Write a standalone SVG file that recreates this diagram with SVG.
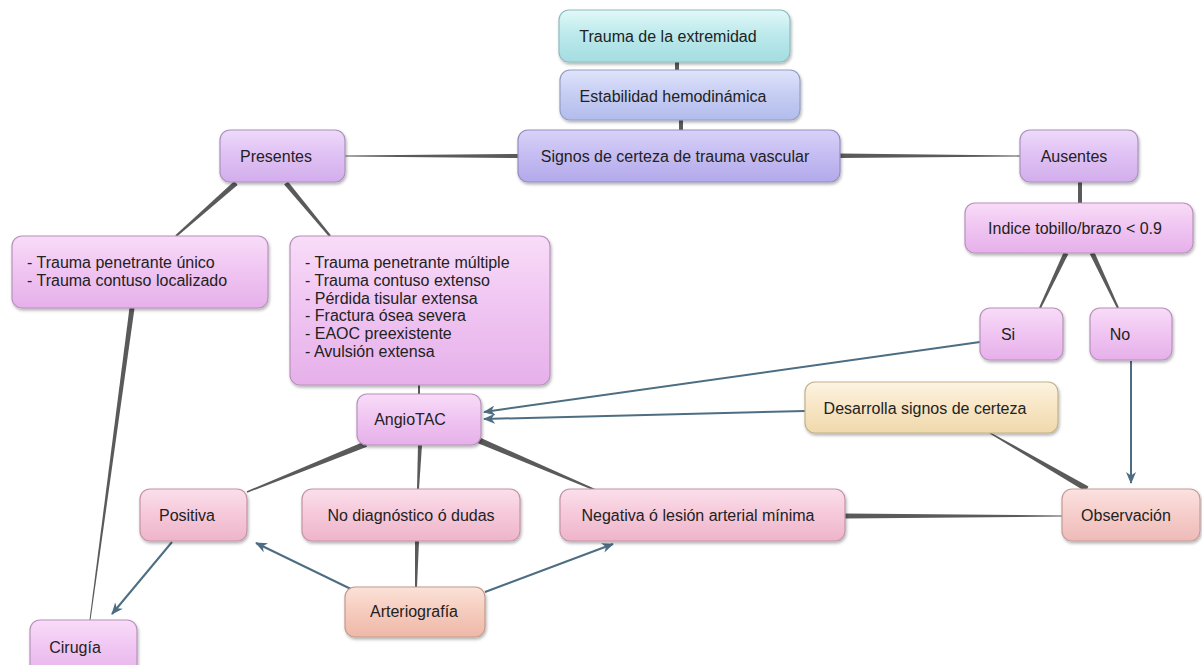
<svg xmlns="http://www.w3.org/2000/svg" width="1202" height="665" viewBox="0 0 1202 665">
<defs>
<linearGradient id="gCyan" x1="0" y1="0" x2="0" y2="1"><stop offset="0" stop-color="#e2f8f8"/><stop offset="0.45" stop-color="#bdeaec"/><stop offset="1" stop-color="#a4dde0"/></linearGradient>
<linearGradient id="gBlue" x1="0" y1="0" x2="0" y2="1"><stop offset="0" stop-color="#dfe4fa"/><stop offset="0.45" stop-color="#c8cff4"/><stop offset="1" stop-color="#b2bcec"/></linearGradient>
<linearGradient id="gLav" x1="0" y1="0" x2="0" y2="1"><stop offset="0" stop-color="#d8d2f8"/><stop offset="0.45" stop-color="#c6bef2"/><stop offset="1" stop-color="#b2a9ea"/></linearGradient>
<linearGradient id="gPurple" x1="0" y1="0" x2="0" y2="1"><stop offset="0" stop-color="#eedafa"/><stop offset="0.45" stop-color="#e0c2f4"/><stop offset="1" stop-color="#d2aeec"/></linearGradient>
<linearGradient id="gMag" x1="0" y1="0" x2="0" y2="1"><stop offset="0" stop-color="#f8dcf8"/><stop offset="0.45" stop-color="#f0c6f2"/><stop offset="1" stop-color="#e6b0ea"/></linearGradient>
<linearGradient id="gPink" x1="0" y1="0" x2="0" y2="1"><stop offset="0" stop-color="#fbdfea"/><stop offset="0.45" stop-color="#f6cadb"/><stop offset="1" stop-color="#eeb4ca"/></linearGradient>
<linearGradient id="gObs" x1="0" y1="0" x2="0" y2="1"><stop offset="0" stop-color="#fbe2e0"/><stop offset="0.45" stop-color="#f6cfcc"/><stop offset="1" stop-color="#eebab8"/></linearGradient>
<linearGradient id="gArt" x1="0" y1="0" x2="0" y2="1"><stop offset="0" stop-color="#fbe2d8"/><stop offset="0.45" stop-color="#f6cdc0"/><stop offset="1" stop-color="#eeb8a8"/></linearGradient>
<linearGradient id="gSand" x1="0" y1="0" x2="0" y2="1"><stop offset="0" stop-color="#fdf4e2"/><stop offset="0.45" stop-color="#f8e6c6"/><stop offset="1" stop-color="#efd8ac"/></linearGradient>
<filter id="sh" x="-10%" y="-20%" width="120%" height="150%"><feDropShadow dx="1" dy="2" stdDeviation="1.8" flood-color="#000" flood-opacity="0.3"/></filter>
<marker id="ah" viewBox="0 0 12 10" refX="11" refY="5" markerWidth="12" markerHeight="10" markerUnits="userSpaceOnUse" orient="auto"><path d="M0,0 L12,5 L0,10 L3.5,5 z" fill="#4d6d82"/></marker>
<style>
.box{filter:url(#sh);stroke-width:1.2}
.t{font-family:"Liberation Sans",Arial,sans-serif;font-size:16px;fill:#222;text-anchor:middle}
.l{font-family:"Liberation Sans",Arial,sans-serif;font-size:16px;fill:#222}
.c{fill:#5a5a5a}
.a{stroke:#4d6d82;stroke-width:2;fill:none;marker-end:url(#ah)}
</style>
</defs>
<rect width="1202" height="665" fill="#ffffff"/>

<g id="connectors">
<rect class="c" x="675" y="61" width="4" height="10"/>
<rect class="c" x="679" y="119" width="4" height="12"/>
<polygon class="c" points="518,154 518,158 345,156.6 345,155.4"/>
<polygon class="c" points="840,153.5 840,158 1020,156.6 1020,155.4"/>
<polygon class="c" points="237.6,184.9 234.4,181.1 175.3,235.3 176.7,236.7"/>
<polygon class="c" points="287.9,181.4 284.1,184.6 329.1,236.8 330.9,235.2"/>
<rect class="c" x="1078" y="181" width="4" height="23"/>
<polygon class="c" points="1068.3,254.1 1063.8,251.9 1039.1,307.6 1040.9,308.4"/>
<polygon class="c" points="1094.3,251.9 1089.8,254.1 1117.1,308.4 1118.9,307.6"/>
<polygon class="c" points="134.5,308.3 129.5,307.7 89.5,620 90.5,620"/>
<rect class="c" x="418" y="384" width="2" height="11"/>
<polygon class="c" points="367.1,446.8 364.9,441.2 246.7,491.3 247.3,492.7"/>
<polygon class="c" points="422,445 418,445 417,489 419,489"/>
<polygon class="c" points="479.2,437.2 476.8,442.8 599.7,492.7 600.3,491.3"/>
<polygon class="c" points="419,541 415,541 415,587 417,587"/>
<polygon class="c" points="845,513.5 845,518.5 1062,516.5 1062,515.5"/>
<polygon class="c" points="990.4,432.4 989.6,433.6 1085.5,491.6 1088.5,486.4"/>
<line class="a" x1="980" y1="342" x2="484" y2="412"/>
<line class="a" x1="805" y1="411" x2="484" y2="419"/>
<line class="a" x1="1131" y1="361" x2="1131" y2="483"/>
<line class="a" x1="172" y1="542" x2="112" y2="614"/>
<line class="a" x1="355" y1="591" x2="256" y2="543"/>
<line class="a" x1="485" y1="592" x2="613" y2="544"/>
</g>

<g id="n-trauma"><rect class="box" x="559" y="10" width="231" height="52" rx="10" fill="url(#gCyan)" stroke="#8fbcc0"/><text class="t" x="668" y="42">Trauma de la extremidad</text></g>
<g id="n-estabilidad"><rect class="box" x="560" y="70" width="240" height="50" rx="10" fill="url(#gBlue)" stroke="#959dc4"/><text class="t" x="673" y="102">Estabilidad hemodinámica</text></g>
<g id="n-signos"><rect class="box" x="518" y="130" width="322" height="52" rx="10" fill="url(#gLav)" stroke="#958dc0"/><text class="t" x="675" y="162">Signos de certeza de trauma vascular</text></g>
<g id="n-presentes"><rect class="box" x="220" y="130" width="125" height="52" rx="10" fill="url(#gPurple)" stroke="#a992bc"/><text class="t" x="276" y="162">Presentes</text></g>
<g id="n-ausentes"><rect class="box" x="1020" y="130" width="118" height="52" rx="10" fill="url(#gPurple)" stroke="#a992bc"/><text class="t" x="1074" y="162">Ausentes</text></g>
<g id="n-indice"><rect class="box" x="965" y="203" width="228" height="50" rx="10" fill="url(#gMag)" stroke="#b892bc"/><text class="t" x="1075" y="234">Indice tobillo/brazo &lt; 0.9</text></g>
<g id="n-si"><rect class="box" x="980" y="308" width="83" height="52" rx="10" fill="url(#gMag)" stroke="#b892bc"/><text class="t" x="1008" y="340">Si</text></g>
<g id="n-no"><rect class="box" x="1090" y="308" width="82" height="52" rx="10" fill="url(#gMag)" stroke="#b892bc"/><text class="t" x="1120" y="340">No</text></g>
<g id="n-unico"><rect class="box" x="12" y="236" width="256" height="72" rx="10" fill="url(#gMag)" stroke="#b892bc"/><text class="l" x="27" y="268">- Trauma penetrante único</text><text class="l" x="27" y="286">- Trauma contuso localizado</text></g>
<g id="n-multiple"><rect class="box" x="290" y="236" width="260" height="149" rx="10" fill="url(#gMag)" stroke="#b892bc"/>
<text class="l" x="305" y="268">- Trauma penetrante múltiple</text>
<text class="l" x="305" y="286">- Trauma contuso extenso</text>
<text class="l" x="305" y="304">- Pérdida tisular extensa</text>
<text class="l" x="305" y="321">- Fractura ósea severa</text>
<text class="l" x="305" y="339">- EAOC preexistente</text>
<text class="l" x="305" y="357">- Avulsión extensa</text></g>
<g id="n-angiotac"><rect class="box" x="357" y="394" width="124" height="51" rx="10" fill="url(#gMag)" stroke="#b892bc"/><text class="t" x="410" y="425">AngioTAC</text></g>
<g id="n-desarrolla"><rect class="box" x="805" y="382" width="253" height="51" rx="10" fill="url(#gSand)" stroke="#c2b28c"/><text class="t" x="925" y="414">Desarrolla signos de certeza</text></g>
<g id="n-positiva"><rect class="box" x="140" y="489" width="107" height="52" rx="10" fill="url(#gPink)" stroke="#c493a6"/><text class="t" x="187" y="521">Positiva</text></g>
<g id="n-nodiag"><rect class="box" x="302" y="489" width="218" height="52" rx="10" fill="url(#gPink)" stroke="#c493a6"/><text class="t" x="411" y="521">No diagnóstico ó dudas</text></g>
<g id="n-negativa"><rect class="box" x="560" y="489" width="285" height="52" rx="10" fill="url(#gPink)" stroke="#c493a6"/><text class="t" x="698" y="521">Negativa ó lesión arterial mínima</text></g>
<g id="n-observacion"><rect class="box" x="1062" y="489" width="138" height="52" rx="10" fill="url(#gObs)" stroke="#c49c98"/><text class="t" x="1126" y="521">Observación</text></g>
<g id="n-arteriografia"><rect class="box" x="345" y="587" width="140" height="50" rx="10" fill="url(#gArt)" stroke="#c49a8c"/><text class="t" x="414" y="617">Arteriografía</text></g>
<g id="n-cirugia"><rect class="box" x="30" y="620" width="107" height="60" rx="10" fill="url(#gMag)" stroke="#b892bc"/><text class="t" x="75" y="653">Cirugía</text></g>
</svg>
